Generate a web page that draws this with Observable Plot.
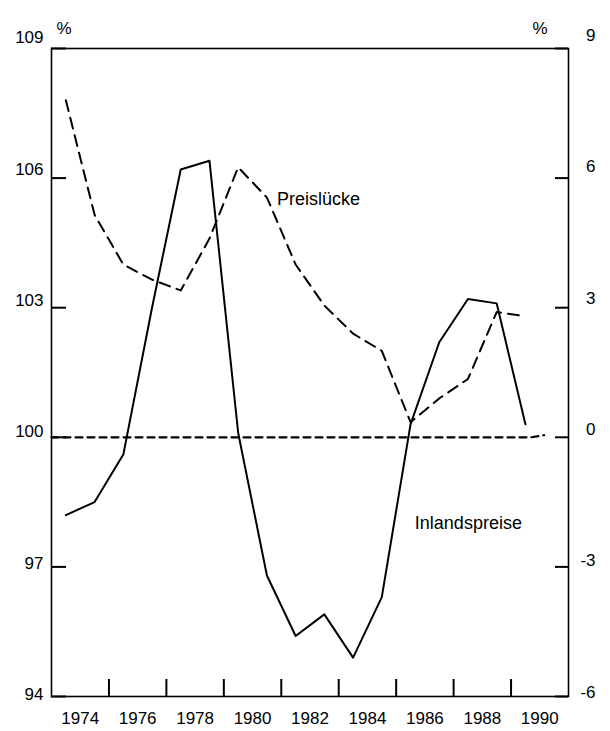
<!DOCTYPE html>
<html>
<head>
<meta charset="utf-8">
<script src="https://cdn.jsdelivr.net/npm/d3@7"></script>
<script src="https://cdn.jsdelivr.net/npm/@observablehq/plot@0.6"></script>
<style>
  html, body { margin: 0; padding: 0; background: #fff; }
  #chart { width: 610px; height: 731px; }
</style>
</head>
<body>
<div id="chart"></div>
<script>
// ---- data (annual values, plotted at mid-year) ----
const years = [1973, 1974, 1975, 1976, 1977, 1978, 1979, 1980, 1981, 1982, 1983, 1984, 1985, 1986, 1987, 1988, 1989];
// Preislücke, left axis (index, %)
const preisluecke = [107.8, 105.15, 104.0, 103.65, 103.4, 104.6, 106.25, 105.55, 104.0, 103.05, 102.4, 102.0, 100.35, 100.9, 101.35, 102.9, 102.8];
// Inlandspreise, right axis (% change)
const inlandspreise = [-1.8, -1.5, -0.4, 3.0, 6.2, 6.4, 0.1, -3.2, -4.6, -4.1, -5.1, -3.7, 0.3, 2.2, 3.2, 3.1, 0.3];
// 100 / 0 reference line (dashed)
const baseYears = [1973, 1989.7, 1990.15];
const baseValues = [100, 100, 100.05];

const leftTicks = [94, 97, 100, 103, 106, 109];
const rightTicks = [-6, -3, 0, 3, 6, 9];
const xTickYears = [1975, 1977, 1979, 1981, 1983, 1985, 1987, 1989];
const xLabelYears = [1974, 1976, 1978, 1980, 1982, 1984, 1986, 1988, 1990];

const seriesLabels = ["Preislücke", "Inlandspreise"];
const labelYears = [1980.85, 1985.65];
const labelValues = [105.5, 98.0];

// ---- layout ----
const W = 610, H = 731;
const mL = 51, mR = 42, mT = 48, mB = 35;
const plotW = W - mL - mR;
const plotH = H - mT - mB;
const font = "'Liberation Sans', Arial, Helvetica, sans-serif";

const chart = Plot.plot({
  width: W,
  height: H,
  marginLeft: mL,
  marginRight: mR,
  marginTop: mT,
  marginBottom: mB,
  style: { fontFamily: font, background: "#fff", color: "#000", overflow: "visible" },
  x: { domain: [1973, 1991], axis: null },
  y: { domain: [94, 109], axis: null },
  marks: [
    // reference line at 100 / 0
    Plot.line(baseYears, {
      x: d => d, y: (d, i) => baseValues[i],
      stroke: "#000", strokeWidth: 2.2, strokeDasharray: "7,5"
    }),
    // Preislücke (dashed)
    Plot.line(years, {
      x: d => d + 0.5, y: (d, i) => preisluecke[i],
      stroke: "#000", strokeWidth: 2, strokeDasharray: "11,7", strokeLinejoin: "round"
    }),
    // Inlandspreise (solid, right axis)
    Plot.line(years, {
      x: d => d + 0.5, y: (d, i) => 100 + inlandspreise[i],
      stroke: "#000", strokeWidth: 2, strokeLinejoin: "round"
    }),
    // frame
    Plot.frame({ stroke: "#000", strokeWidth: 1.6 }),
    // inward ticks
    Plot.tickY(leftTicks, { y: d => d, insetRight: plotW - 15, stroke: "#000", strokeWidth: 2 }),
    Plot.tickY(rightTicks, { y: d => d + 100, insetLeft: plotW - 13, stroke: "#000", strokeWidth: 2 }),
    Plot.tickX(xTickYears, { x: d => d, insetTop: plotH - 17, stroke: "#000", strokeWidth: 2 }),
    // left tick labels
    Plot.text(leftTicks, {
      y: d => d + 0.05 + (d - 94) * 0.013, text: d => String(d),
      frameAnchor: "left", dx: -8, textAnchor: "end", fontSize: 17, fill: "#000"
    }),
    // right tick labels
    Plot.text(rightTicks, {
      y: d => d + 100 + 0.1 + (d + 6) * 0.013, text: d => String(d),
      frameAnchor: "right", dx: 27, textAnchor: "end", fontSize: 17, fill: "#000"
    }),
    // x labels
    Plot.text(xLabelYears, {
      x: d => d, text: d => String(d),
      frameAnchor: "bottom", dy: 27, fontSize: 17, fill: "#000"
    }),
    // percent units
    Plot.text(["%"], { text: d => d, frameAnchor: "top-left", dx: 5, dy: -27, fontSize: 17, fill: "#000" }),
    Plot.text(["%"], { text: d => d, frameAnchor: "top-right", dx: -21, dy: -27, fontSize: 17, fill: "#000" }),
    // series labels
    Plot.text(seriesLabels, {
      x: (d, i) => labelYears[i], y: (d, i) => labelValues[i], text: d => d,
      textAnchor: "start", fontSize: 18, fill: "#000"
    })
  ]
});

document.getElementById("chart").appendChild(chart);
</script>
</body>
</html>
